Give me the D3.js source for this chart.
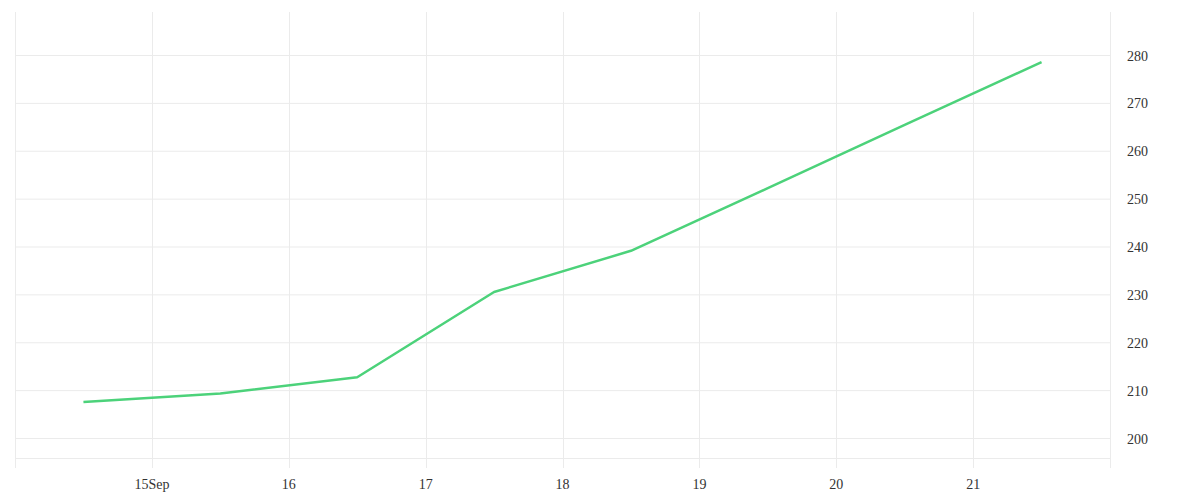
<!DOCTYPE html>
<html>
<head>
<meta charset="utf-8">
<script src="https://cdn.jsdelivr.net/npm/d3@7"></script>
<style>
  body { margin: 0; background: #fff; }
  .tick-label { font-family: 'Liberation Serif', serif; font-size: 14px; fill: #333; }
</style>
</head>
<body>
<div id="chart"></div>
<script>
// data
const dates = ['2020-09-14T12:00Z', '2020-09-15T12:00Z', '2020-09-16T12:00Z', '2020-09-17T12:00Z',
  '2020-09-18T12:00Z', '2020-09-19T12:00Z', '2020-09-20T12:00Z', '2020-09-21T12:00Z'];
const values = [207.5, 209.3, 212.7, 230.5, 239.1, 252.2, 265.4, 278.5];
const xTickDates = ['2020-09-15', '2020-09-16', '2020-09-17', '2020-09-18', '2020-09-19', '2020-09-20', '2020-09-21'];
const xTickLabels = ['15Sep', '16', '17', '18', '19', '20', '21'];
const yTicks = [200, 210, 220, 230, 240, 250, 260, 270, 280];

const width = 1200;
const height = 500;
const plot = { left: 15, right: 1110, top: 12, bottom: 468 };

const svg = d3
  .select('#chart')
  .append('svg')
  .attr('width', width)
  .attr('height', height);

const x = d3
  .scaleUtc()
  .domain([new Date('2020-09-14T00:00Z'), new Date('2020-09-22T00:00Z')])
  .range([plot.left, plot.right]);

const y = d3.scaleLinear().domain([200, 280]).range([438, 55]);

const gridColor = '#ebebeb';

// horizontal grid
svg
  .append('g')
  .selectAll('line')
  .data(yTicks)
  .join('line')
  .attr('x1', plot.left)
  .attr('x2', plot.right)
  .attr('y1', (d) => y(d) + 0.5)
  .attr('y2', (d) => y(d) + 0.5)
  .attr('stroke', gridColor);

// bottom line (x axis base)
svg
  .append('line')
  .attr('x1', plot.left)
  .attr('x2', plot.right)
  .attr('y1', 458.5)
  .attr('y2', 458.5)
  .attr('stroke', gridColor);

// vertical grid, plus left/right borders
const vLines = [x.domain()[0], ...xTickDates.map((d) => new Date(d + 'T00:00Z')), x.domain()[1]];
svg
  .append('g')
  .selectAll('line')
  .data(vLines)
  .join('line')
  .attr('x1', (d) => Math.round(x(d)) + 0.5)
  .attr('x2', (d) => Math.round(x(d)) + 0.5)
  .attr('y1', plot.top)
  .attr('y2', plot.bottom)
  .attr('stroke', gridColor);

// x labels
svg
  .append('g')
  .selectAll('text')
  .data(xTickDates)
  .join('text')
  .attr('class', 'tick-label')
  .attr('x', (d) => x(new Date(d + 'T00:00Z')))
  .attr('y', 484)
  .attr('text-anchor', 'middle')
  .attr('dominant-baseline', 'central')
  .text((d, i) => xTickLabels[i]);

// y labels on the right
svg
  .append('g')
  .selectAll('text')
  .data(yTicks)
  .join('text')
  .attr('class', 'tick-label')
  .attr('x', 1127)
  .attr('y', (d) => y(d) + 1)
  .attr('dominant-baseline', 'central')
  .text((d) => d);

// the line
const line = d3
  .line()
  .x((d, i) => x(new Date(dates[i])))
  .y((d) => y(d));

svg
  .append('path')
  .datum(values)
  .attr('d', line)
  .attr('fill', 'none')
  .attr('stroke', '#4cd27a')
  .attr('stroke-width', 2.5)
  .attr('stroke-linejoin', 'round');
</script>
</body>
</html>
